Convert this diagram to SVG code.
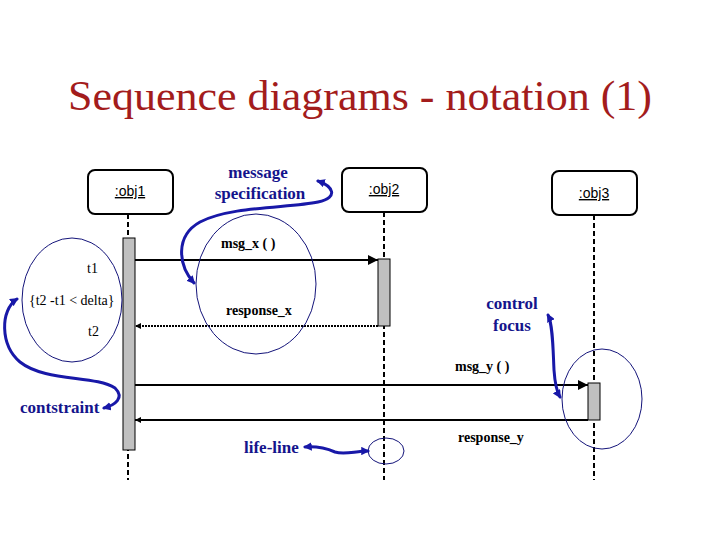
<svg xmlns="http://www.w3.org/2000/svg" width="720" height="540" viewBox="0 0 720 540">
<defs>
<style>
.box{fill:#fff;stroke:#000;stroke-width:2}
.life{stroke:#000;stroke-width:2;stroke-dasharray:5,3;fill:none}
.bar{fill:#c0c0c0;stroke:#000;stroke-width:1}
.msg{stroke:#000;stroke-width:2;fill:none}
.ret{stroke:#000;stroke-width:2;stroke-dasharray:2,1;fill:none}
.obj{font-family:"Liberation Sans",Arial,sans-serif;font-size:14px;text-decoration:underline;text-anchor:middle}
.lbl{font-family:"Liberation Serif","Times New Roman",serif;font-size:14px;font-weight:bold}
.cst{font-family:"Liberation Serif","Times New Roman",serif;font-size:14px}
.note{font-family:"Liberation Serif","Times New Roman",serif;font-size:17px;font-weight:bold;fill:#14148c}
.ring{fill:none;stroke:#14147a;stroke-width:1}
.curve{fill:none;stroke:#1818a8;stroke-width:3;stroke-linecap:round}
</style>
<marker id="ah" viewBox="0 0 10 10" refX="10" refY="5" markerWidth="5" markerHeight="5" orient="auto-start-reverse" markerUnits="strokeWidth"><path d="M0,0 L10,5 L0,10 z" fill="#000"/></marker>
<marker id="sm" viewBox="0 0 10 10" refX="10" refY="5" markerWidth="3" markerHeight="3" orient="auto-start-reverse" markerUnits="strokeWidth"><path d="M0,0 L10,5 L0,10 z" fill="#000"/></marker>
<marker id="bh" viewBox="0 0 10 10" refX="8" refY="5" markerWidth="2.8" markerHeight="2.8" orient="auto-start-reverse" markerUnits="strokeWidth"><path d="M0,0 L10,5 L0,10 z" fill="#1818a8"/></marker>
</defs>
<rect width="720" height="540" fill="#fff"/>
<text x="360" y="110" font-family="'Liberation Serif','Times New Roman',serif" font-size="42" fill="#a31c1c" text-anchor="middle" textLength="584" lengthAdjust="spacingAndGlyphs">Sequence diagrams - notation (1)</text>

<g id="obj1">
<rect class="box" x="88" y="170" width="85" height="44" rx="7"/>
<text class="obj" x="130" y="196">:obj1</text>
<line class="life" x1="128" y1="214" x2="128" y2="480"/>
<rect class="bar" x="123" y="238" width="12" height="212"/>
</g>
<g id="obj2">
<rect class="box" x="342" y="168" width="85" height="44" rx="7"/>
<text class="obj" x="384" y="194">:obj2</text>
<line class="life" x1="384" y1="212" x2="384" y2="480"/>
<rect class="bar" x="378" y="259" width="12" height="67"/>
</g>
<g id="obj3">
<rect class="box" x="552" y="171" width="85" height="44" rx="7"/>
<text class="obj" x="594" y="198">:obj3</text>
<line class="life" x1="594" y1="215" x2="594" y2="480"/>
<rect class="bar" x="588" y="383" width="12" height="37"/>
</g>

<g id="connectors">
<line class="msg" x1="135" y1="260" x2="378" y2="260" marker-end="url(#ah)"/>
<line class="ret" x1="378" y1="326" x2="135" y2="326" marker-end="url(#sm)"/>
<line class="msg" x1="135" y1="385" x2="588" y2="385" marker-end="url(#ah)"/>
<line class="msg" x1="588" y1="420" x2="135" y2="420" marker-end="url(#sm)"/>
</g>

<g id="labels">
<text class="lbl" x="221" y="248">msg_x ( )</text>
<text class="lbl" x="226" y="315">response_x</text>
<text class="lbl" x="455" y="371">msg_y ( )</text>
<text class="lbl" x="458" y="442">response_y</text>
</g>

<g id="constraint">
<ellipse class="ring" cx="72" cy="300" rx="50" ry="62"/>
<text class="cst" x="87" y="273">t1</text>
<text class="cst" x="29" y="305">{t2 -t1 &lt; delta}</text>
<text class="cst" x="88" y="336">t2</text>
</g>

<g id="annotations">
<ellipse class="ring" cx="256" cy="284" rx="60" ry="70"/>
<ellipse class="ring" cx="602" cy="399" rx="40" ry="50"/>
<ellipse class="ring" cx="386" cy="451" rx="18" ry="13"/>
<text class="note" x="258" y="178" text-anchor="middle">message</text>
<text class="note" x="260" y="199" text-anchor="middle">specification</text>
<text class="note" x="512" y="309" text-anchor="middle">control</text>
<text class="note" x="512" y="331" text-anchor="middle">focus</text>
<text class="note" x="20" y="413">contstraint</text>
<text class="note" x="244" y="453">life-line</text>
<path class="curve" d="M318,181 C332,186 340,197 318,202 C290,208 230,206 200,222 C175,236 178,265 194,283" marker-start="url(#bh)" marker-end="url(#bh)"/>
<path class="curve" d="M17,299 C0,310 0,345 20,362 C45,382 95,375 115,388 C125,398 115,405 104,408" marker-start="url(#bh)" marker-end="url(#bh)"/>
<path class="curve" d="M548,315 C553,325 553,350 554,370 C555,385 557,392 560,397" marker-start="url(#bh)" marker-end="url(#bh)"/>
<path class="curve" d="M305,447 C320,446 328,449 335,452 C345,455 355,451 368,451" marker-start="url(#bh)" marker-end="url(#bh)"/>
</g>
</svg>
